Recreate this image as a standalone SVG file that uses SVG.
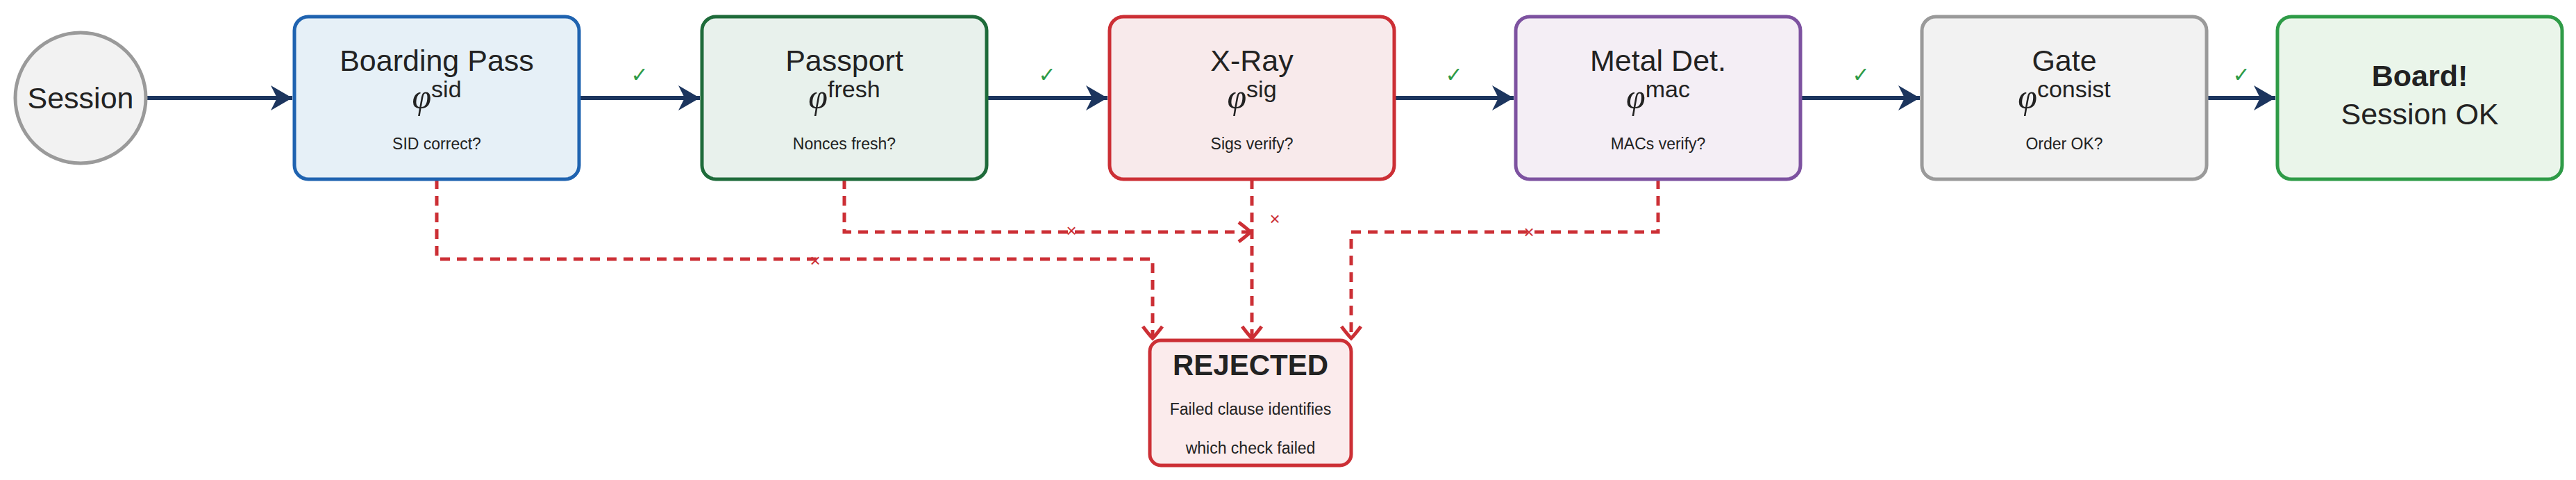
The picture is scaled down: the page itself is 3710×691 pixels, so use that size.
<svg xmlns="http://www.w3.org/2000/svg" width="3710" height="691" viewBox="0 0 3710 691">
<style>
text{font-family:"Liberation Sans","DejaVu Sans",sans-serif;fill:#222;text-anchor:middle}
.t{font-size:43px}.s{font-size:23px}
.phi{font-family:"Liberation Serif",serif;font-style:italic;font-size:50px}
.sup{font-size:34px}
.box{stroke-width:5}
.flow{stroke:#1c355e;stroke-width:6;fill:none;marker-end:url(#a)}
.rej{stroke:#cc2f35;stroke-width:5;fill:none;stroke-dasharray:14 10;marker-end:url(#r)}
.ck{fill:#2e9b47;font-size:30px}
.x{fill:#cc2f35;font-size:26px}
</style>
<defs>
<marker id="a" markerWidth="10" markerHeight="10" refX="9" refY="5" orient="auto" markerUnits="userSpaceOnUse" viewBox="0 0 10 10" style="overflow:visible">
<path d="M-22,-13 L9,5 L-22,23 L-13,5 Z" fill="#1c355e"/>
</marker>
<marker id="r" markerWidth="10" markerHeight="10" refX="5" refY="5" orient="auto" markerUnits="userSpaceOnUse" viewBox="0 0 10 10" style="overflow:visible">
<path d="M-12,-9 Q0,0 5,5 Q0,10 -12,19" fill="none" stroke="#cc2f35" stroke-width="5"/>
</marker>
</defs>
<g id="connectors">
<path class="flow" d="M212,141 H421"/>
<path class="flow" d="M834,141 H1008"/>
<path class="flow" d="M1421,141 H1595"/>
<path class="flow" d="M2008,141 H2180"/>
<path class="flow" d="M2593,141 H2765"/>
<path class="flow" d="M3178,141 H3277"/>
<path class="rej" d="M629,258 V373 H1660 V487"/>
<path class="rej" d="M1216,258 V334 H1801"/>
<path class="rej" d="M1803,258 V487"/>
<path class="rej" d="M2388,258 V334 H1946 V487"/>
<text class="ck" x="921" y="118">✓</text>
<text class="ck" x="1508" y="118">✓</text>
<text class="ck" x="2094" y="118">✓</text>
<text class="ck" x="2680" y="118">✓</text>
<text class="ck" x="3228" y="118">✓</text>
<text class="x" x="1174" y="384">×</text>
<text class="x" x="1543" y="341">×</text>
<text class="x" x="1836" y="324">×</text>
<text class="x" x="2202" y="343">×</text>
</g>
<g id="session">
<circle cx="116" cy="141" r="94" fill="#f2f2f2" stroke="#9a9a9a" stroke-width="5"/>
<text class="t" x="116" y="156">Session</text>
</g>
<g id="boarding">
<rect class="box" x="424" y="24" width="410" height="234" rx="20" fill="#e6f0f7" stroke="#1f63b0"/>
<text class="t" x="629" y="102">Boarding Pass</text>
<text x="629" y="156"><tspan class="phi">φ</tspan><tspan class="sup" dy="-16">sid</tspan></text>
<text class="s" x="629" y="215">SID correct?</text>
</g>
<g id="passport">
<rect class="box" x="1011" y="24" width="410" height="234" rx="20" fill="#e8f1ec" stroke="#1e6b3a"/>
<text class="t" x="1216" y="102">Passport</text>
<text x="1216" y="156"><tspan class="phi">φ</tspan><tspan class="sup" dy="-16">fresh</tspan></text>
<text class="s" x="1216" y="215">Nonces fresh?</text>
</g>
<g id="xray">
<rect class="box" x="1598" y="24" width="410" height="234" rx="20" fill="#f8eaeb" stroke="#cc2f35"/>
<text class="t" x="1803" y="102">X-Ray</text>
<text x="1803" y="156"><tspan class="phi">φ</tspan><tspan class="sup" dy="-16">sig</tspan></text>
<text class="s" x="1803" y="215">Sigs verify?</text>
</g>
<g id="metal">
<rect class="box" x="2183" y="24" width="410" height="234" rx="20" fill="#f4eef5" stroke="#7d52a0"/>
<text class="t" x="2388" y="102">Metal Det.</text>
<text x="2388" y="156"><tspan class="phi">φ</tspan><tspan class="sup" dy="-16">mac</tspan></text>
<text class="s" x="2388" y="215">MACs verify?</text>
</g>
<g id="gate">
<rect class="box" x="2768" y="24" width="410" height="234" rx="20" fill="#f2f2f2" stroke="#9a9a9a"/>
<text class="t" x="2973" y="102">Gate</text>
<text x="2973" y="156"><tspan class="phi">φ</tspan><tspan class="sup" dy="-16">consist</tspan></text>
<text class="s" x="2973" y="215">Order OK?</text>
</g>
<g id="board">
<rect class="box" x="3280" y="24" width="410" height="234" rx="20" fill="#eaf5ea" stroke="#2e9b47"/>
<text class="t" x="3485" y="124" font-weight="bold">Board!</text>
<text class="t" x="3485" y="179">Session OK</text>
</g>
<g id="rejected">
<rect class="box" x="1656" y="490" width="290" height="180" rx="16" fill="#fbebec" stroke="#cc2f35"/>
<text x="1801" y="540" font-size="42" font-weight="bold">REJECTED</text>
<text class="s" x="1801" y="597">Failed clause identifies</text>
<text class="s" x="1801" y="653">which check failed</text>
</g>
</svg>
